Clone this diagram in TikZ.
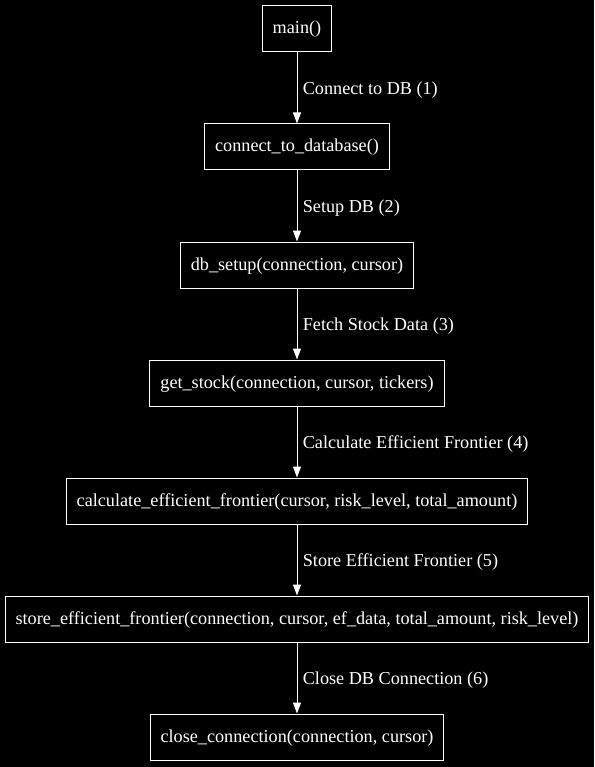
\documentclass[tikz,border=0pt]{standalone}
\usepackage{fontspec}
\setmainfont{Liberation Serif}
\usetikzlibrary{arrows.meta}
\tikzset{
  fn/.style={draw=white, text=white, line width=1pt, inner xsep=10.5pt, minimum height=46pt, text height=13pt, text depth=3pt, font=\fontsize{18.2}{21}\selectfont},
  call/.style={draw=white, line width=1pt, -{Triangle[length=11pt,width=8pt]}},
  lbl/.style={text=white, right, xshift=2pt, yshift=-2.5pt, font=\fontsize{18.2}{21}\selectfont}
}
\begin{document}
\begin{tikzpicture}[x=1pt,y=1pt]
      \fill[black] (0,0) rectangle (594,-767);
      \useasboundingbox (0,0) rectangle (594,-767);
      \draw
        (297,-29) node[fn] (main){main()}
        (297,-147) node[fn] (conn){connect\_to\_database()}
        (297,-265) node[fn] (setup){db\_setup(connection, cursor)}
        (297,-383) node[fn] (stock){get\_stock(connection, cursor, tickers)}
        (297,-501) node[fn] (calc){calculate\_efficient\_frontier(cursor, risk\_level, total\_amount)}
        (297,-619) node[fn] (store){store\_efficient\_frontier(connection, cursor, ef\_data, total\_amount, risk\_level)}
        (297,-737) node[fn] (close){close\_connection(connection, cursor)};
      \begin{scope}[call]
        \draw (main) to node[lbl]{Connect to DB (1)} (conn);
        \draw (conn) to node[lbl]{Setup DB (2)} (setup);
        \draw (setup) to node[lbl]{Fetch Stock Data (3)} (stock);
        \draw (stock) to node[lbl]{Calculate Efficient Frontier (4)} (calc);
        \draw (calc) to node[lbl]{Store Efficient Frontier (5)} (store);
        \draw (store) to node[lbl]{Close DB Connection (6)} (close);
      \end{scope}
    \end{tikzpicture}
\end{document}
